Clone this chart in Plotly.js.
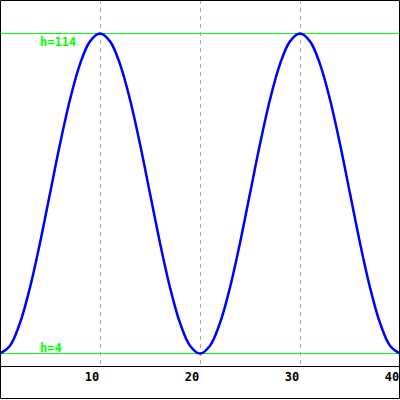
<!DOCTYPE html>
<html>
<head>
<meta charset="utf-8">
<script src="https://cdn.plot.ly/plotly-3.0.1.min.js"></script>
<style>
  html, body { margin: 0; padding: 0; background: #fff; }
  #chart { width: 400px; height: 400px; }
</style>
</head>
<body>
<div id="chart"></div>
<script>
// Curve samples (x, h)
const xValues = [0,1,2,3,4,5,6,7,8,9,10,11,12,13,14,15,16,17,18,19,20,
                 21,22,23,24,25,26,27,28,29,30,31,32,33,34,35,36,37,38,39,40];
const hValues = [4,6.7,14.5,26.7,42,59,76,91.3,103.5,111.3,114,111.3,103.5,91.3,76,59,42,26.7,14.5,6.7,4,
                 6.7,14.5,26.7,42,59,76,91.3,103.5,111.3,114,111.3,103.5,91.3,76,59,42,26.7,14.5,6.7,4];

// Reference levels and their labels
const levelValues = [114, 4];
const levelLabels = ['h=114', 'h=4'];

// X tick labels
const tickValues = [10, 20, 30, 40];
const tickLabels = ['10', '20', '30', '40'];

const W = 400, H = 400, B = 34;
const plotH = H - B;

const shapes = levelValues.map(v => ({
  type: 'line', xref: 'paper', yref: 'y',
  x0: 0, x1: 1, y0: v, y1: v,
  line: { color: '#00ff00', width: 1 },
  layer: 'below'
}));
// outer frame
shapes.push({
  type: 'rect', xref: 'paper', yref: 'paper',
  x0: 0.5 / W, x1: 399.5 / W,
  y0: -(32.5 / plotH), y1: 1 - 0.5 / plotH,
  line: { color: '#000', width: 1 },
  fillcolor: 'rgba(0,0,0,0)',
  layer: 'above'
});

const annotations = levelValues.map((v, i) => ({
  x: 39 / W, xref: 'paper', xanchor: 'left',
  y: v, yref: 'y',
  yanchor: i === 0 ? 'top' : 'bottom',
  yshift: i === 0 ? 0 : -2,
  text: levelLabels[i],
  showarrow: false,
  borderpad: 0,
  font: { family: 'DejaVu Sans Mono', size: 12, color: '#00ff00', weight: 'bold' }
}));

const data = [{
  x: xValues, y: hValues,
  type: 'scatter', mode: 'lines',
  line: { color: '#0000ff', width: 2.5, shape: 'spline', smoothing: 1 },
  hoverinfo: 'skip'
}];

const layout = {
  width: W, height: H,
  margin: { l: 0, r: 0, t: 0, b: B, pad: 0 },
  paper_bgcolor: '#ffffff',
  plot_bgcolor: '#ffffff',
  showlegend: false,
  xaxis: {
    range: [0, 40],
    tickmode: 'array', tickvals: tickValues, ticktext: tickLabels,
    ticks: '', showline: true, linecolor: '#000', linewidth: 1,
    showgrid: true, gridcolor: '#aaaaaa', gridwidth: 1, griddash: '4px,4px',
    zeroline: false, automargin: false,
    ticklabelshift: -8,
    tickfont: { family: 'DejaVu Sans Mono', size: 12, color: '#000', weight: 'bold' },
    fixedrange: true
  },
  yaxis: {
    range: [-0.297, 125.516],
    showticklabels: false, ticks: '', showgrid: false, zeroline: false,
    showline: false, automargin: false, fixedrange: true
  },
  shapes: shapes,
  annotations: annotations
};

Plotly.newPlot('chart', data, layout, { staticPlot: true, displayModeBar: false });
</script>
</body>
</html>
